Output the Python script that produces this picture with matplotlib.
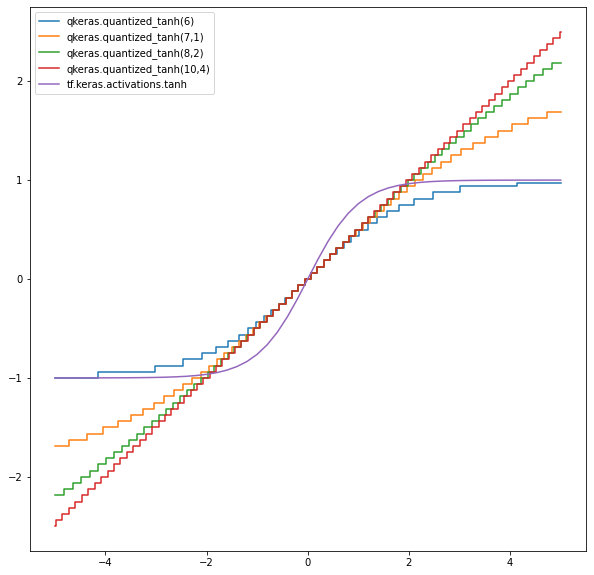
import numpy as np
import matplotlib
matplotlib.use("Agg")
import matplotlib.pyplot as plt

# ---- data ----
x_min, x_max = -5.0, 5.0

# quantized_tanh(6): step edges (x) and levels (in 1/16 units)
q6_edges = [-4.143, -3.012, -2.468, -2.097, -1.810, -1.572, -1.367, -1.184, -1.017, -0.862,
            -0.717, -0.578, -0.445, -0.315, -0.188, -0.063, 0.063, 0.188, 0.315, 0.445,
            0.578, 0.717, 0.862, 1.017, 1.184, 1.367, 1.572, 1.810, 2.097, 2.468, 3.012, 4.143]
q6_levels16 = list(range(-16, 16)) + [15.5]

# quantized_tanh(7,1)
q71_edges = [-4.729, -4.360, -4.039, -3.753, -3.494, -3.257, -3.037, -2.832, -2.639, -2.456,
             -2.281, -2.115, -1.955, -1.800, -1.650, -1.505, -1.363, -1.224, -1.089, -0.955,
             -0.824, -0.694, -0.566, -0.439, -0.313, -0.188, -0.063, 0.063, 0.188, 0.313,
             0.439, 0.566, 0.694, 0.824, 0.955, 1.089, 1.224, 1.363, 1.505, 1.650,
             1.800, 1.955, 2.115, 2.281, 2.456, 2.639, 2.832, 3.037, 3.257, 3.494,
             3.753, 4.039, 4.360, 4.729]
q71_levels16 = list(range(-27, 28))

# quantized_tanh(8,2)
q82_edges = [-4.823, -4.649, -4.478, -4.312, -4.148, -3.988, -3.831, -3.676, -3.524, -3.374,
             -3.227, -3.081, -2.938, -2.796, -2.656, -2.517, -2.380, -2.245, -2.110, -1.977,
             -1.845, -1.713, -1.583, -1.453, -1.324, -1.196, -1.069, -0.942, -0.815, -0.689,
             -0.563, -0.438, -0.313, -0.188, -0.063, 0.063, 0.188, 0.313, 0.438, 0.563,
             0.689, 0.815, 0.942, 1.069, 1.196, 1.324, 1.453, 1.583, 1.713, 1.845,
             1.977, 2.110, 2.245, 2.380, 2.517, 2.656, 2.796, 2.938, 3.081, 3.227,
             3.374, 3.524, 3.676, 3.831, 3.988, 4.148, 4.312, 4.478, 4.649, 4.823]
q82_levels16 = list(range(-35, 36))

# quantized_tanh(10,4)
q104_edges = [-4.977, -4.849, -4.721, -4.594, -4.466, -4.339, -4.212, -4.085, -3.958, -3.831,
              -3.704, -3.577, -3.451, -3.324, -3.198, -3.072, -2.946, -2.820, -2.694, -2.568,
              -2.442, -2.317, -2.191, -2.065, -1.940, -1.814, -1.689, -1.564, -1.438, -1.313,
              -1.188, -1.063, -0.938, -0.813, -0.688, -0.563, -0.438, -0.313, -0.188, -0.063,
              0.063, 0.188, 0.313, 0.438, 0.563, 0.688, 0.813, 0.938, 1.063, 1.188,
              1.313, 1.438, 1.564, 1.689, 1.814, 1.940, 2.065, 2.191, 2.317, 2.442,
              2.568, 2.694, 2.820, 2.946, 3.072, 3.198, 3.324, 3.451, 3.577, 3.704,
              3.831, 3.958, 4.085, 4.212, 4.339, 4.466, 4.594, 4.721, 4.849, 4.977]
q104_levels16 = list(range(-40, 41))

# tf.keras.activations.tanh sampled values
tanh_x = [-5.0, -4.8, -4.6, -4.4, -4.2, -4.0, -3.8, -3.6, -3.4, -3.2, -3.0, -2.8, -2.6, -2.4,
          -2.2, -2.0, -1.8, -1.6, -1.4, -1.2, -1.0, -0.8, -0.6, -0.4, -0.2, 0.0, 0.2, 0.4,
          0.6, 0.8, 1.0, 1.2, 1.4, 1.6, 1.8, 2.0, 2.2, 2.4, 2.6, 2.8, 3.0, 3.2, 3.4, 3.6,
          3.8, 4.0, 4.2, 4.4, 4.6, 4.8, 5.0]
tanh_y = [-0.9999, -0.9999, -0.9998, -0.9997, -0.9996, -0.9993, -0.9990, -0.9985, -0.9978,
          -0.9967, -0.9951, -0.9926, -0.9890, -0.9837, -0.9757, -0.9640, -0.9468, -0.9217,
          -0.8854, -0.8337, -0.7616, -0.6640, -0.5370, -0.3799, -0.1974, 0.0000, 0.1974,
          0.3799, 0.5370, 0.6640, 0.7616, 0.8337, 0.8854, 0.9217, 0.9468, 0.9640, 0.9757,
          0.9837, 0.9890, 0.9926, 0.9951, 0.9967, 0.9978, 0.9985, 0.9990, 0.9993, 0.9996,
          0.9997, 0.9998, 0.9999, 0.9999]

series = [
    ("qkeras.quantized_tanh(6)", q6_edges, q6_levels16),
    ("qkeras.quantized_tanh(7,1)", q71_edges, q71_levels16),
    ("qkeras.quantized_tanh(8,2)", q82_edges, q82_levels16),
    ("qkeras.quantized_tanh(10,4)", q104_edges, q104_levels16),
]
colors = ["#1f77b4", "#ff7f0e", "#2ca02c", "#d62728", "#9467bd"]

W, H = 594, 575
fig = plt.figure(figsize=(W / 72, H / 72), dpi=72)
left, right, top, bottom = 29.5, 586, 7, 551
ax = fig.add_axes([left / W, (H - bottom) / H, (right - left) / W, (bottom - top) / H])

for (label, edges, lv), c in zip(series, colors):
    xs = [x_min] + edges + [x_max]
    ys = [v / 16 for v in lv] + [lv[-1] / 16]
    ax.step(xs, ys, where="post", color=c, lw=1.5, label=label)

ax.plot(tanh_x, tanh_y, color=colors[4], lw=1.5, label="tf.keras.activations.tanh")

ax.set_xlim(-5.5, 5.5)
ax.set_ylim(-2.75, 2.75)
ax.set_xticks([-4, -2, 0, 2, 4])
ax.set_yticks([-2, -1, 0, 1, 2])
ax.tick_params(labelsize=10)
ax.legend(loc="upper left", fontsize=10)

fig.savefig("out.png", dpi=72)
